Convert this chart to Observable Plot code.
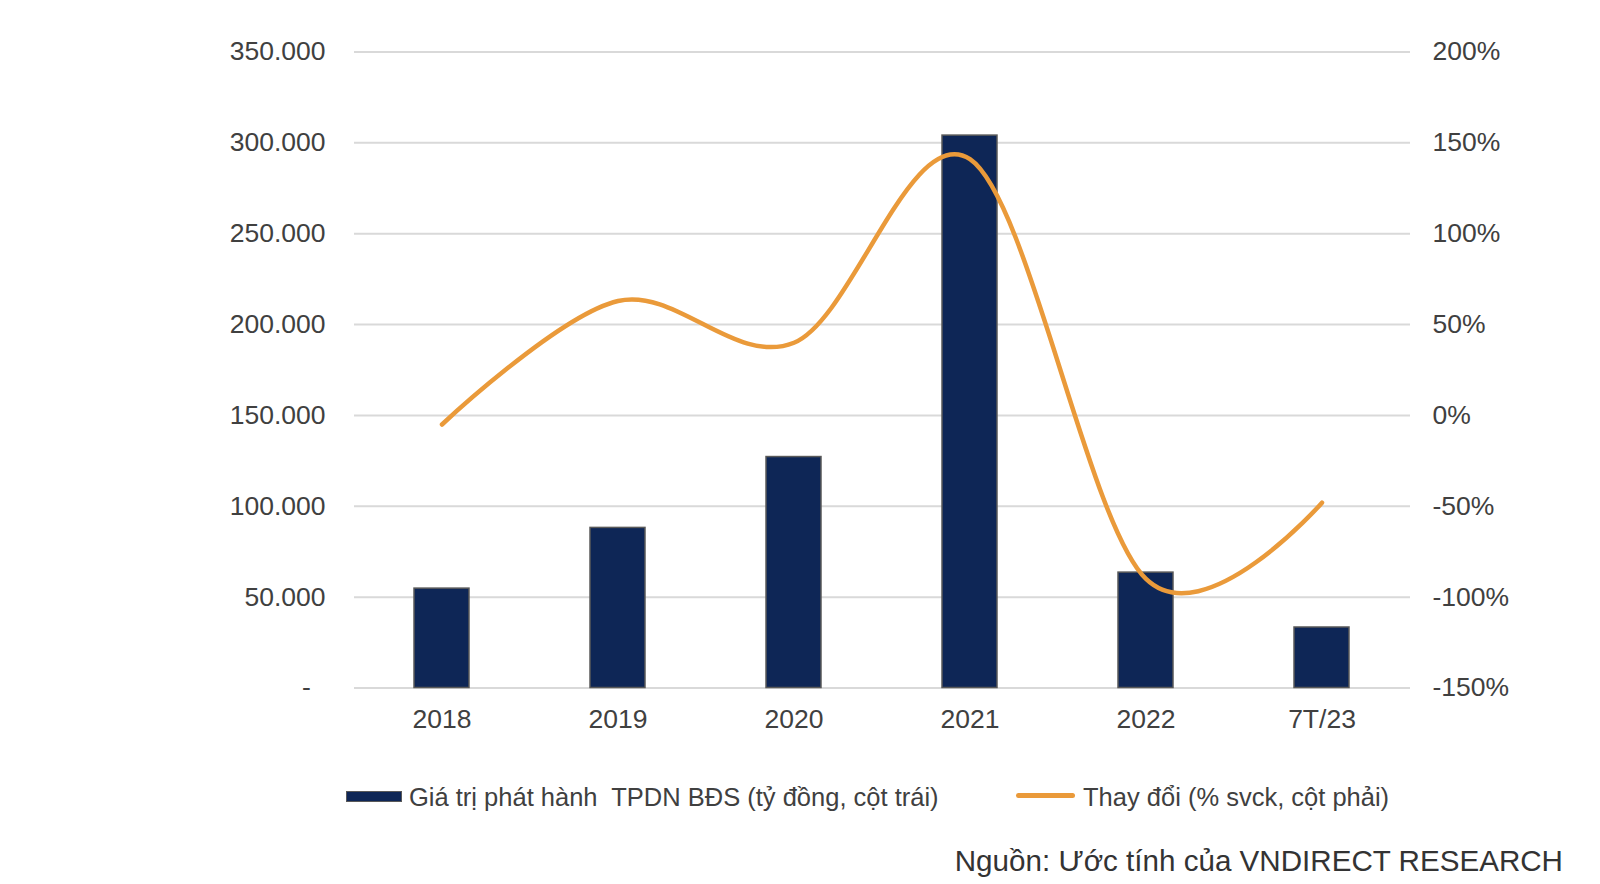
<!DOCTYPE html>
<html>
<head>
<meta charset="utf-8">
<script src="https://cdn.jsdelivr.net/npm/d3@7"></script>
<script src="https://cdn.jsdelivr.net/npm/@observablehq/plot@0.6"></script>
<style>
  html, body { margin: 0; padding: 0; background: #fff; }
  #wrap { position: relative; width: 1600px; height: 884px; font-family: "Liberation Sans", Arial, sans-serif; color: #404040; }
  #chart { position: absolute; left: 0; top: 0; }
  .sw { position: absolute; }
  .lt { position: absolute; font-size: 25.5px; line-height: 30px; white-space: pre; color: #404040; }
  #source { position: absolute; right: 37px; top: 843px; font-size: 29.6px; line-height: 36px; color: #333; white-space: pre; }
</style>
</head>
<body>
<div id="wrap">
  <div id="chart"></div>
  <div class="sw" style="left:346px; top:791px; width:54px; height:9px; background:#0E2656; border:1.5px solid #595959;"></div>
  <div class="lt" style="left:409px; top:782px;">Giá trị phát hành  TPDN BĐS (tỷ đồng, cột trái)</div>
  <div class="sw" style="left:1016px; top:793px; width:59px; height:5px; background:#EA9A3A; border-radius:3px;"></div>
  <div class="lt" style="left:1083px; top:782px;">Thay đổi (% svck, cột phải)</div>
  <div id="source">Nguồn: Ước tính của VNDIRECT RESEARCH</div>
</div>
<script>
const categories = ["2018", "2019", "2020", "2021", "2022", "7T/23"];
const issuance = [54700, 88100, 127100, 304000, 63500, 33300];   // tỷ đồng (left axis)
const yoyChange = [-5, 63, 40, 141, -90, -48];                   // % svck (right axis)
const leftTicks = [0, 50000, 100000, 150000, 200000, 250000, 300000, 350000];
const rightTicks = [-150, -100, -50, 0, 50, 100, 150, 200];

// right axis mapped into the left scale: [-150, 200] -> [0, 350000]
const rightMin = -150, rightMax = 200, leftMax = 350000;
const toLeft = p => (p - rightMin) / (rightMax - rightMin) * leftMax;
const fromLeft = v => Math.round(v / leftMax * (rightMax - rightMin) + rightMin);

const bars = categories.map((c, i) => ({cat: c, value: issuance[i]}));
const line = categories.map((c, i) => ({cat: c, pct: yoyChange[i], y: toLeft(yoyChange[i])}));

const fmtLeft = d => d === 0 ? "-\u00a0\u00a0" : d3.format(",")(d).replace(/,/g, ".");

const chart = Plot.plot({
  width: 1600,
  height: 760,
  marginLeft: 354,
  marginRight: 190,
  marginTop: 51.5,
  marginBottom: 72.5,
  style: {fontFamily: "Liberation Sans, Arial, sans-serif", fontSize: "26.5px", color: "#404040", background: "transparent"},
  x: {type: "band", domain: categories, paddingInner: 0.685, paddingOuter: 0.34, label: null},
  y: {domain: [0, leftMax], label: null},
  marks: [
    Plot.ruleY(leftTicks, {stroke: "#d9d9d9", strokeWidth: 2}),
    Plot.barY(bars, {x: "cat", y: "value", fill: "#0E2656", stroke: "#595959", strokeWidth: 1.5}),
    Plot.line(line, {x: "cat", y: "y", stroke: "#EA9A3A", strokeWidth: 4.5, curve: "cardinal"}),
    Plot.axisY({anchor: "left", ticks: leftTicks, tickFormat: fmtLeft, tickSize: 0, tickPadding: 29, label: null}),
    Plot.axisY({anchor: "right", ticks: rightTicks.map(toLeft), tickFormat: d => fromLeft(d) + "%", tickSize: 0, tickPadding: 22, label: null}),
    Plot.axisX({tickSize: 0, tickPadding: 21, label: null})
  ]
});
document.getElementById("chart").appendChild(chart);
</script>
</body>
</html>
